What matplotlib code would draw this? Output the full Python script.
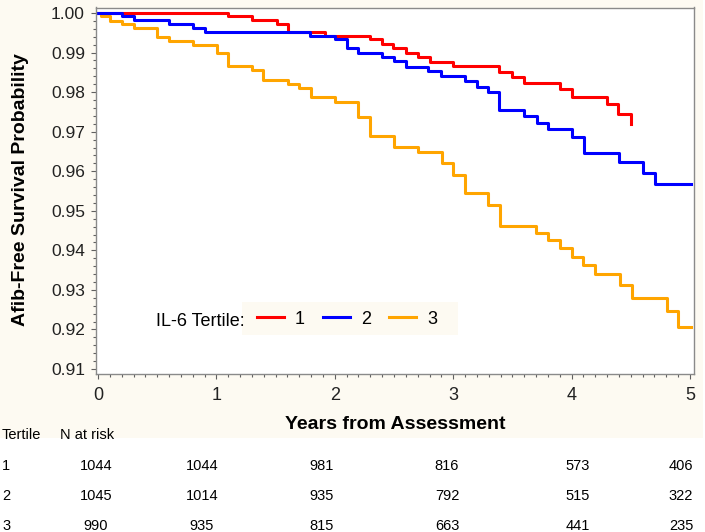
"""Kaplan-Meier style afib-free survival by IL-6 tertile, with numbers at risk."""

import matplotlib
matplotlib.use("Agg")
import matplotlib.pyplot as plt
from matplotlib.patches import Rectangle
from matplotlib.lines import Line2D
from matplotlib.ticker import MultipleLocator, FormatStrFormatter

plt.rcParams["font.family"] = ["Liberation Sans", "DejaVu Sans"]

# step curves (years, survival)
t1_years = [0.0, 1.098, 1.301, 1.512, 1.605, 1.917, 2.297, 2.399, 2.492, 2.601,
            2.703, 2.804, 2.998, 3.387, 3.497, 3.598, 3.902, 4.003, 4.299, 4.392, 4.502]
t1_surv = [1.0, 0.99924, 0.99823, 0.99722, 0.99527, 0.99426, 0.99343, 0.99216, 0.99108, 0.98996,
           0.98895, 0.98769, 0.98660, 0.98516, 0.98390, 0.98238, 0.98071, 0.97884, 0.97692, 0.97447, 0.97194]

t2_years = [0.0, 0.203, 0.304, 0.600, 0.802, 0.904, 1.791, 2.002, 2.103, 2.196, 2.399,
            2.500, 2.601, 2.787, 2.897, 3.100, 3.201, 3.294, 3.387, 3.598, 3.708, 3.801,
            4.003, 4.105, 4.400, 4.603, 4.704, 5.01]
t2_surv = [1.0, 0.99924, 0.99823, 0.99722, 0.99621, 0.99512, 0.99426, 0.99343, 0.99108, 0.98981, 0.98895,
           0.98787, 0.98643, 0.98541, 0.98415, 0.98289, 0.98137, 0.98011, 0.97548, 0.97396, 0.97227, 0.97060,
           0.96873, 0.96469, 0.96241, 0.95963, 0.95670, 0.95670]

t3_years = [0.0, 0.025, 0.101, 0.199, 0.304, 0.498, 0.600, 0.802, 1.001, 1.102, 1.301,
            1.396, 1.605, 1.698, 1.799, 2.002, 2.196, 2.297, 2.500, 2.703, 2.905, 2.998,
            3.100, 3.294, 3.395, 3.699, 3.801, 3.902, 4.003, 4.096, 4.198, 4.409, 4.510,
            4.806, 4.899, 5.01]
t3_surv = [1.0, 0.99924, 0.9981, 0.9971, 0.9961, 0.99393, 0.99300, 0.99191, 0.98981, 0.98653, 0.98552,
           0.98306, 0.98198, 0.98097, 0.97884, 0.97750, 0.97379, 0.96891, 0.96620, 0.96479, 0.96201, 0.95905,
           0.95458, 0.95147, 0.94616, 0.94446, 0.94262, 0.94052, 0.93840, 0.93630, 0.93395, 0.93124, 0.92803,
           0.92467, 0.92070, 0.92070]

tertile_labels = ["1", "2", "3"]
tertile_colors = ["#ff0000", "#0000ff", "#ffa500"]

at_risk = {
    "1": [1044, 1044, 981, 816, 573, 406],
    "2": [1045, 1014, 935, 792, 515, 322],
    "3": [990, 935, 815, 663, 441, 235],
}

W, H = 705, 532


def fx(px):
    return px / W


def fy(py):
    return 1 - py / H


fig = plt.figure(figsize=(W / 100, H / 100), dpi=100)
fig.patch.set_facecolor("white")
cream = "#fdfaf2"
fig.add_artist(Rectangle((0, fy(438)), fx(703), 1 - fy(438), transform=fig.transFigure,
                         facecolor=cream, edgecolor="none", zorder=-1))

ax = fig.add_axes([fx(96), fy(374), fx(694) - fx(96), fy(7.5) - fy(374)])
ax.set_facecolor("white")

ax.step(t3_years, t3_surv, where="post", color=tertile_colors[2], linewidth=2.2)
ax.step(t1_years, t1_surv, where="post", color=tertile_colors[0], linewidth=2.2)
ax.step(t2_years, t2_surv, where="post", color=tertile_colors[1], linewidth=2.2)

ax.set_xlim(-0.017, 5.034)
ax.set_ylim(0.90875, 1.00139)
ax.xaxis.set_major_locator(MultipleLocator(1))
ax.xaxis.set_minor_locator(MultipleLocator(0.1))
ax.yaxis.set_major_locator(MultipleLocator(0.01))
ax.yaxis.set_minor_locator(MultipleLocator(0.002))
ax.yaxis.set_major_formatter(FormatStrFormatter("%.2f"))

for side in ["top", "right", "left", "bottom"]:
    ax.spines[side].set_color("#8a8a8a")
    ax.spines[side].set_linewidth(1)

ax.tick_params(axis="both", which="both", direction="out", color="#606060", width=0.8)
ax.tick_params(axis="both", which="major", length=3.5)
ax.tick_params(axis="both", which="minor", length=2)
ax.tick_params(axis="y", labelsize=12.5, pad=4.5, labelcolor="#222222")
ax.tick_params(axis="x", labelsize=13, pad=5.5, labelcolor="#222222")

fig.text(fx(20.5), fy(190), "Afib-Free Survival Probability", rotation=90,
         ha="center", va="center", fontsize=14, fontweight="bold")
fig.text(fx(395), fy(429), "Years from Assessment", ha="center", va="baseline",
         fontsize=14, fontweight="bold")

# legend: title on white, entries on a cream box
fig.add_artist(Rectangle((fx(242), fy(335)), fx(458) - fx(242), fy(302) - fy(335),
                         transform=fig.transFigure, facecolor=cream, edgecolor="none", zorder=1))
fig.text(fx(245), fy(326), "IL-6 Tertile:", ha="right", va="baseline", fontsize=13, zorder=6)
handles = [Line2D([], [], color=c, linewidth=2.2) for c in tertile_colors]
fig.legend(handles, tertile_labels, ncol=3, loc="center left",
           bbox_to_anchor=(fx(257), fy(319)), frameon=False, fontsize=13,
           borderpad=0, borderaxespad=0, handlelength=1.5, handletextpad=0.6,
           columnspacing=1.0)

# numbers at risk table
col_x = [96, 202, 322, 447, 578, 681]
row_y = [469.5, 500.5, 530.5]
fig.text(fx(2), fy(439), "Tertile", ha="left", va="baseline", fontsize=10.5)
fig.text(fx(60), fy(439), "N at risk", ha="left", va="baseline", fontsize=10.5)
for label, yb in zip(tertile_labels, row_y):
    fig.text(fx(2), fy(yb), label, ha="left", va="baseline", fontsize=10.5)
    for xc, n in zip(col_x, at_risk[label]):
        fig.text(fx(xc), fy(yb), str(n), ha="center", va="baseline", fontsize=10.5)

fig.savefig("out.png", dpi=100, facecolor=fig.get_facecolor())
plt.close(fig)
